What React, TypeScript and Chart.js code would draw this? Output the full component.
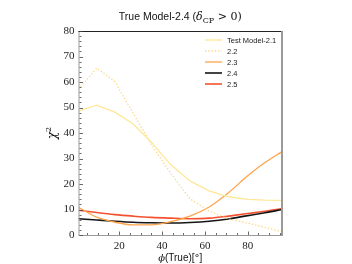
import React, { useEffect, useRef } from "react";
import { Chart, registerables } from "chart.js";

Chart.register(...registerables);

const PHI = [1, 9.5, 18, 26.5, 35, 44, 53, 62, 71, 80, 88, 96];
const M21 = [48.6, 50.9, 48.2, 43.5, 36.4, 27.6, 21.2, 17.3, 15.0, 14.0, 13.7, 13.6];
const M22 = [57.1, 65.4, 60.1, 47.8, 35.6, 24.2, 14.2, 9.4, 6.3, 4.7, 3.0, 1.3];
const M23 = [10.9, 7.0, 5.0, 4.0, 4.0, 5.2, 7.4, 11.0, 16.6, 23.2, 28.4, 32.7];
const M24 = [6.4, 5.9, 5.4, 5.0, 4.8, 4.7, 4.9, 5.4, 6.3, 7.6, 8.7, 10.0];
const M25 = [9.7, 8.8, 8.0, 7.4, 6.9, 6.6, 6.4, 6.6, 7.4, 8.4, 9.3, 10.4];
const LABELS = ["Test Model-2.1", "2.2", "2.3", "2.4", "2.5"];
const X_TICKS = [20, 40, 60, 80];
const Y_TICKS = [0, 10, 20, 30, 40, 50, 60, 70, 80];

const SERIES = [M21, M22, M23, M24, M25];
const COLORS = ["#ffe79a", "#ffd680", "#ffa44a", "#151515", "#f4522f"];
const WIDTHS = [1.3, 1.3, 1.3, 1.6, 1.6];
const DASHES: number[][] = [[], [1.3, 2], [], [], []];
const TENSION = [0, 0, 0.4, 0.4, 0.4];

const textPlugin = {
  id: "textPlugin",
  afterDraw(chart: any) {
    const ctx = chart.ctx as CanvasRenderingContext2D;
    const { left, right, top, bottom } = chart.chartArea;
    const xs = chart.scales.x;
    const ys = chart.scales.y;
    ctx.save();
    // spines
    ctx.lineWidth = 1;
    ctx.strokeStyle = "#9a9a9a";
    ctx.beginPath();
    ctx.moveTo(left + 0.5, top);
    ctx.lineTo(left + 0.5, bottom);
    ctx.moveTo(left, bottom + 0.5);
    ctx.lineTo(right, bottom + 0.5);
    ctx.stroke();
    ctx.strokeStyle = "#222";
    ctx.beginPath();
    ctx.moveTo(left, top + 0.5);
    ctx.lineTo(right, top + 0.5);
    ctx.stroke();
    ctx.strokeStyle = "#9a9a9a";
    ctx.lineWidth = 2;
    ctx.beginPath();
    ctx.moveTo(right, top);
    ctx.lineTo(right, bottom + 1);
    ctx.stroke();
    // ticks (inward)
    ctx.strokeStyle = "#444";
    ctx.lineWidth = 0.8;
    ctx.beginPath();
    for (let v = 0; v <= 80; v += 2) {
      const y = Math.round(ys.getPixelForValue(v)) + 0.5;
      const len = v % 10 === 0 ? 3.5 : 2;
      ctx.moveTo(left + 1, y);
      ctx.lineTo(left + 1 + len, y);
    }
    for (let v = 5; v <= 95; v += 5) {
      const x = Math.round(xs.getPixelForValue(v)) + 0.5;
      const len = v % 20 === 0 ? 3.5 : 2;
      ctx.moveTo(x, bottom);
      ctx.lineTo(x, bottom - len);
    }
    ctx.stroke();

    // title
    ctx.fillStyle = "#111";
    ctx.textBaseline = "alphabetic";
    const cx = (left + right) / 2;
    const ty = 20;
    const parts: [string, string, number][] = [
      ["True Model-2.4 (", "10.5px 'Liberation Sans'", 0],
      ["δ", "italic 11px 'DejaVu Serif'", 0],
      ["CP", "8px 'DejaVu Serif'", 2.5],
      [" > 0)", "11px 'DejaVu Serif'", 0],
    ];
    let total = 0;
    for (const p of parts) {
      ctx.font = p[1];
      total += ctx.measureText(p[0]).width;
    }
    let x = cx - total / 2;
    ctx.textAlign = "left";
    for (const p of parts) {
      ctx.font = p[1];
      ctx.fillText(p[0], x, ty + p[2]);
      x += ctx.measureText(p[0]).width;
    }

    // x label
    const xparts: [string, string][] = [
      ["ϕ", "italic 10px 'DejaVu Serif'"],
      ["(True)[", "10px 'Liberation Sans'"],
      ["°", "10px 'DejaVu Serif'"],
      ["]", "10px 'Liberation Sans'"],
    ];
    total = 0;
    for (const p of xparts) {
      ctx.font = p[1];
      total += ctx.measureText(p[0]).width;
    }
    x = cx - total / 2;
    for (const p of xparts) {
      ctx.font = p[1];
      ctx.fillText(p[0], x, 261);
      x += ctx.measureText(p[0]).width;
    }

    // y label
    ctx.save();
    ctx.translate(56, (top + bottom) / 2);
    ctx.rotate(-Math.PI / 2);
    ctx.font = "italic 12px 'DejaVu Serif'";
    const w1 = ctx.measureText("χ").width;
    ctx.font = "8px 'DejaVu Serif'";
    const w2 = ctx.measureText("2").width;
    ctx.font = "italic 12px 'DejaVu Serif'";
    ctx.fillText("χ", -(w1 + w2) / 2, 0);
    ctx.font = "8px 'DejaVu Serif'";
    ctx.fillText("2", -(w1 + w2) / 2 + w1, -5);
    ctx.restore();

    // legend
    ctx.font = "7.5px 'Liberation Sans'";
    ctx.textBaseline = "middle";
    chart.data.datasets.forEach((ds: any, i: number) => {
      const ly = 40 + i * 11;
      ctx.strokeStyle = ds.borderColor;
      ctx.lineWidth = ds.borderWidth;
      ctx.setLineDash(ds.borderDash || []);
      ctx.beginPath();
      ctx.moveTo(205, ly);
      ctx.lineTo(222, ly);
      ctx.stroke();
      ctx.setLineDash([]);
      ctx.fillStyle = "#222";
      ctx.fillText(ds.label, 227, ly + 0.5);
    });
    ctx.restore();
  },
};

export default function App() {
  const ref = useRef<HTMLCanvasElement | null>(null);
  useEffect(() => {
    if (!ref.current) return;
    const chart = new Chart(ref.current, {
      type: "line",
      data: {
        datasets: SERIES.map((s, i) => ({
          label: LABELS[i],
          data: s.map((v, j) => ({ x: PHI[j], y: v })),
          borderColor: COLORS[i],
          borderWidth: WIDTHS[i],
          borderDash: DASHES[i],
          tension: TENSION[i],
          cubicInterpolationMode: i >= 2 ? "monotone" : "default",
          pointRadius: 0,
          fill: false,
        })) as any,
      },
      options: {
        responsive: false,
        animation: false,
        devicePixelRatio: 1,
        layout: { padding: { top: 31, right: 70, bottom: 0, left: 0 } },
        plugins: { legend: { display: false }, tooltip: { enabled: false }, title: { display: false } },
        scales: {
          x: {
            type: "linear",
            min: 1,
            max: 96,
            grid: { display: false, drawTicks: false },
            border: { display: false },
            afterFit: (s: any) => { s.height = 29; },
            afterBuildTicks: (s: any) => { s.ticks = X_TICKS.map((v) => ({ value: v })); },
            ticks: { color: "#222", padding: 5, font: { family: "'Liberation Serif'", size: 11 } },
          },
          y: {
            min: 0,
            max: 80,
            grid: { display: false, drawTicks: false },
            border: { display: false },
            afterFit: (s: any) => { s.width = 78.5; },
            afterBuildTicks: (s: any) => { s.ticks = Y_TICKS.map((v) => ({ value: v })); },
            ticks: { color: "#222", padding: 4, font: { family: "'Liberation Serif'", size: 11 } },
          },
        },
      },
      plugins: [textPlugin],
    });
    return () => chart.destroy();
  }, []);
  return (
    <div style={{ position: "fixed", left: 0, top: 0, width: 352, height: 264, background: "#fff" }}>
      <canvas ref={ref} width={352} height={264} />
    </div>
  );
}
